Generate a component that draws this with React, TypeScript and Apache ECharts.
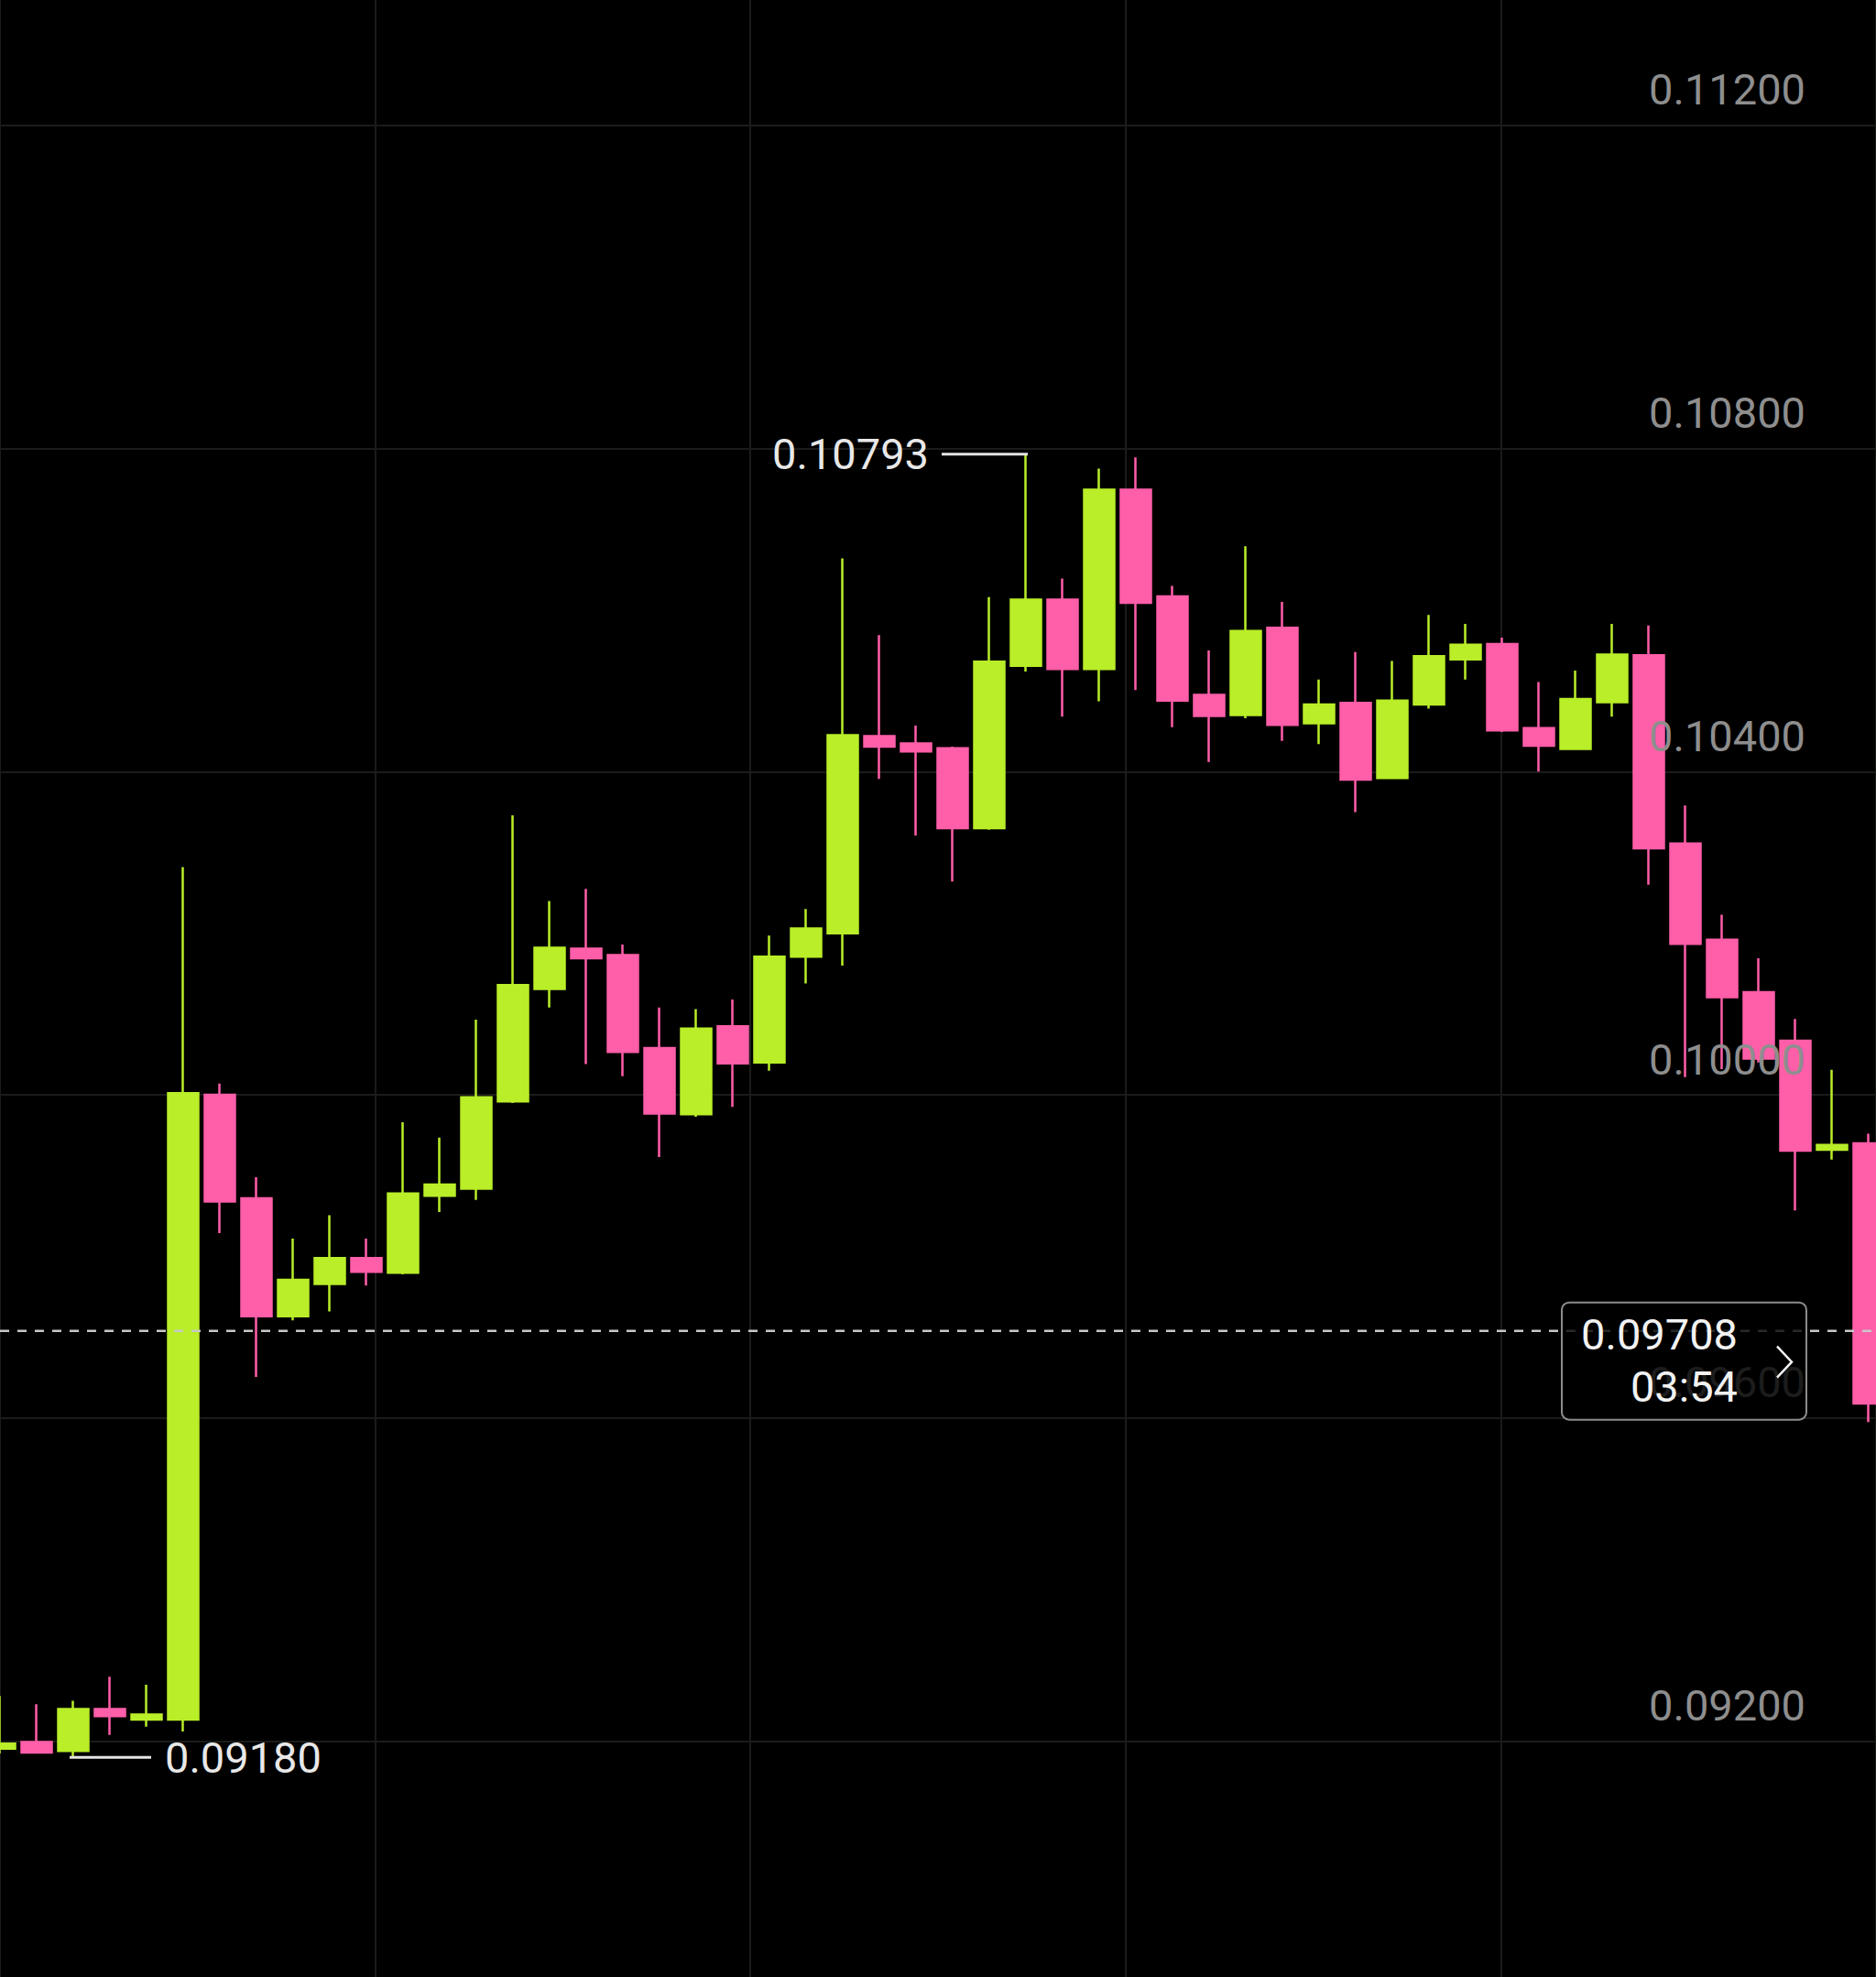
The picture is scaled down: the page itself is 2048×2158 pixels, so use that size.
import React, { useEffect, useRef } from "react";
import * as echarts from "echarts";

// OHLC values (one entry per 1-candle slot, left to right)
const opens = [
  0.09191, 0.09199, 0.09188, 0.0924, 0.09227, 0.09227, 0.1, 0.09872, 0.09726, 0.09766,
  0.09798, 0.0978, 0.09875, 0.09884, 0.09992, 0.10131, 0.10181, 0.10173, 0.10058, 0.09976,
  0.10085, 0.1004, 0.10171, 0.102, 0.10444, 0.10435, 0.10429, 0.1033, 0.10531, 0.10613,
  0.10527, 0.10749, 0.10617, 0.10495, 0.1047, 0.10578, 0.1046, 0.10485, 0.10392, 0.10483,
  0.10539, 0.10558, 0.10454, 0.10428, 0.10486, 0.10544, 0.10311, 0.10192, 0.10127, 0.10067,
  0.09932, 0.0994,
];
const closes = [
  0.09197, 0.09186, 0.0924, 0.09231, 0.09233, 0.10002, 0.09868, 0.09726, 0.09771, 0.09798,
  0.09781, 0.09878, 0.09889, 0.09997, 0.10136, 0.10182, 0.10169, 0.10053, 0.09977, 0.10082,
  0.10039, 0.10171, 0.10206, 0.10445, 0.10431, 0.10425, 0.1033, 0.10536, 0.10613, 0.10527,
  0.10749, 0.10609, 0.10488, 0.10469, 0.10574, 0.10458, 0.10483, 0.1039, 0.10488, 0.10543,
  0.10557, 0.10451, 0.10432, 0.1049, 0.10545, 0.10305, 0.10187, 0.10121, 0.10045, 0.09931,
  0.09938, 0.09618,
];
const lows = [
  0.09185, 0.09186, 0.0918, 0.09208, 0.09218, 0.09212, 0.09829, 0.09651, 0.09721, 0.09732,
  0.09764, 0.09778, 0.09855, 0.0987, 0.0999, 0.10108, 0.10038, 0.10023, 0.09923, 0.09973,
  0.09985, 0.1003, 0.10138, 0.1016, 0.10391, 0.10321, 0.10264, 0.10328, 0.10524, 0.10468,
  0.10487, 0.10501, 0.10455, 0.10412, 0.10466, 0.10438, 0.10434, 0.1035, 0.10391, 0.10478,
  0.10514, 0.10449, 0.104, 0.10427, 0.10468, 0.1026, 0.10022, 0.10032, 0.1004, 0.09857,
  0.0992, 0.09595,
];
const highs = [
  0.09256, 0.09246, 0.0925, 0.0928, 0.0927, 0.10282, 0.10014, 0.09898, 0.09822, 0.09851,
  0.09822, 0.09966, 0.09947, 0.10093, 0.10346, 0.1024, 0.10255, 0.10186, 0.10108, 0.10106,
  0.10118, 0.10197, 0.1023, 0.10664, 0.10569, 0.10457, 0.10431, 0.10616, 0.10793, 0.10639,
  0.10775, 0.10789, 0.1063, 0.1055, 0.10679, 0.1061, 0.10514, 0.10548, 0.10537, 0.10594,
  0.10583, 0.10566, 0.10511, 0.10525, 0.10583, 0.10581, 0.10358, 0.10223, 0.10169, 0.10094,
  0.10031, 0.09952,
];
const categories = opens.map((_, i) => String(i));

const yMin = 0.088;
const yMax = 0.116;
const yStep = 0.004;
const visibleTicks = [0.092, 0.096, 0.1, 0.104, 0.108, 0.112];
const lastPrice = 0.09708;
const countdown = "03:54";

const UP = "#b9ee28";
const DOWN = "#ff5ea9";
const GRID_LINE = "#1a1c1a";
const FONT = "Roboto";

export default function App() {
  const ref = useRef<HTMLDivElement | null>(null);

  useEffect(() => {
    if (!ref.current) return;
    const chart = echarts.init(ref.current, undefined, { renderer: "svg" });
    const gridTop = -216.1;
    const gridHeight = 2469.6;

    chart.setOption({
      animation: false,
      backgroundColor: "#000000",
      grid: [
        {
          left: -20,
          width: 40 * categories.length,
          top: gridTop,
          height: gridHeight,
          containLabel: false,
          outerBoundsMode: "none",
        },
        {
          left: 0,
          width: 2048,
          top: gridTop,
          height: gridHeight,
          containLabel: false,
          outerBoundsMode: "none",
        },
      ],
      xAxis: [
        { type: "category", gridIndex: 0, data: categories, show: false, boundaryGap: true },
        {
          type: "value",
          gridIndex: 1,
          min: 0,
          max: 5,
          interval: 1,
          axisLine: { show: false },
          axisTick: { show: false },
          axisLabel: { show: false },
          splitLine: { show: true, lineStyle: { color: GRID_LINE, width: 2 } },
        },
      ],
      yAxis: [
        { type: "value", gridIndex: 0, min: yMin, max: yMax, interval: yStep, show: false },
        {
          type: "value",
          gridIndex: 1,
          min: yMin,
          max: yMax,
          interval: yStep,
          position: "left",
          axisLine: { show: false },
          axisTick: { show: false },
          axisLabel: { show: false },
          splitLine: { show: true, lineStyle: { color: GRID_LINE, width: 2 } },
        },
        {
          type: "value",
          gridIndex: 1,
          min: yMin,
          max: yMax,
          interval: yStep,
          position: "right",
          z: 10,
          axisLine: { show: false },
          axisTick: { show: false },
          splitLine: { show: false },
          axisLabel: {
            inside: true,
            margin: 77,
            color: "#8e8e8e",
            fontSize: 47,
            fontFamily: FONT,
            verticalAlign: "bottom",
            lineHeight: 78,
            formatter: (v: number) =>
              visibleTicks.some((t) => Math.abs(t - v) < 1e-7) ? v.toFixed(5) : "",
          },
        },
      ],
      series: [
        {
          type: "candlestick",
          xAxisIndex: 0,
          yAxisIndex: 0,
          barWidth: 33,
          data: opens.map((o, i) => [o, closes[i], lows[i], highs[i]]),
          itemStyle: {
            color: UP,
            color0: DOWN,
            borderColor: UP,
            borderColor0: DOWN,
            borderWidth: 2.5,
          },
        },
      ],
    });

    // annotation positions from the library's own scales
    let hi = 0;
    let lo = 0;
    highs.forEach((h, i) => {
      if (h > highs[hi]) hi = i;
    });
    lows.forEach((l, i) => {
      if (l < lows[lo]) lo = i;
    });
    const [hx, hy] = chart.convertToPixel({ seriesIndex: 0 }, [hi, highs[hi]]) as number[];
    const [lx, ly] = chart.convertToPixel({ seriesIndex: 0 }, [lo, lows[lo]]) as number[];
    const py = (chart.convertToPixel({ seriesIndex: 0 }, [0, lastPrice]) as number[])[1];

    const txt = (x: number, y: number, text: string, align: string, fill: string) => ({
      type: "text",
      x,
      y,
      z: 100,
      style: {
        text,
        fill,
        fontSize: 47,
        fontFamily: FONT,
        align,
        verticalAlign: "middle",
      },
    });

    chart.setOption({
      graphic: [
        {
          type: "line",
          z: 90,
          shape: { x1: 0, y1: py, x2: 2048, y2: py },
          style: { stroke: "#c8c8c8", lineWidth: 2.5, lineDash: [10, 9] },
        },
        {
          type: "line",
          z: 100,
          shape: { x1: hx - 92, y1: hy, x2: hx + 2, y2: hy },
          style: { stroke: "#e4e4e4", lineWidth: 3 },
        },
        txt(hx - 106, hy, highs[hi].toFixed(5), "right", "#e8e8e8"),
        {
          type: "line",
          z: 100,
          shape: { x1: lx - 4, y1: ly, x2: lx + 85, y2: ly },
          style: { stroke: "#e4e4e4", lineWidth: 3 },
        },
        txt(lx + 100, ly, lows[lo].toFixed(5), "left", "#e8e8e8"),
        {
          type: "rect",
          z: 100,
          shape: { x: 1705, y: py - 31, width: 267, height: 128, r: 8 },
          style: { fill: "rgba(0,0,0,0.8)", stroke: "#8c8c8c", lineWidth: 2 },
        },
        txt(1897, py + 4, lastPrice.toFixed(5), "right", "#f2f2f2"),
        txt(1897, py + 61, countdown, "right", "#f2f2f2"),
        {
          type: "polyline",
          z: 100,
          shape: {
            points: [
              [1940, py + 17],
              [1956, py + 34],
              [1940, py + 51],
            ],
          },
          style: { stroke: "#f2f2f2", lineWidth: 2.5, fill: "none" },
        },
      ],
    });

    return () => chart.dispose();
  }, []);

  return (
    <div
      ref={ref}
      style={{ position: "absolute", left: 0, top: 0, width: 2048, height: 2158, background: "#000" }}
    />
  );
}
